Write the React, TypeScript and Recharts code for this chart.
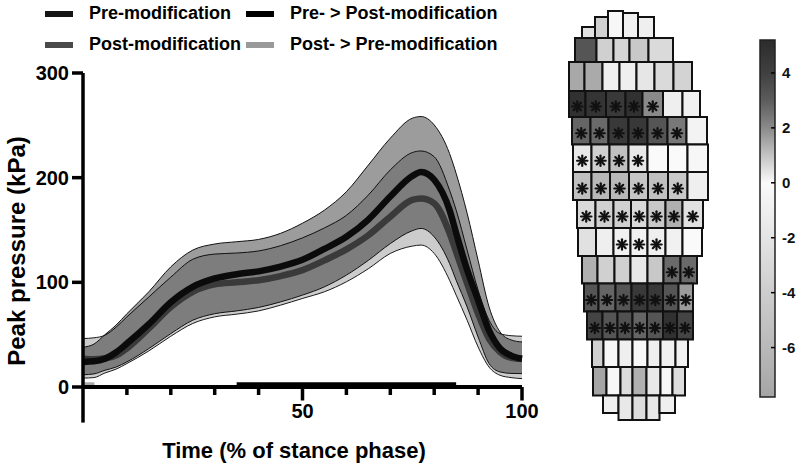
import React from 'react';
import {
  ComposedChart,
  Area,
  Line,
  XAxis,
  YAxis,
  ReferenceArea,
  ReferenceLine,
  Scatter,
} from 'recharts';

const FONT = '"Liberation Sans", Arial, Helvetica, sans-serif';

// ---- Peak pressure over stance phase (kPa) ----
const stance = [0, 2.5, 5, 7.5, 10, 15, 20, 25, 30, 35, 40, 45, 50, 55, 60, 65, 70, 75, 77, 80, 83.5, 85, 87.5, 90, 92.5, 95, 97.5, 100];
const preMean = [24, 24.5, 27, 33, 41.5, 60, 81, 95.7, 103.7, 107.8, 110.5, 115, 121.5, 132, 143.5, 160, 182, 201.6, 205.5, 198, 169, 147, 112, 83, 54, 37, 30, 27];
const preUpper = [38, 41, 50, 59, 70, 91, 114.8, 130.8, 136.6, 138.8, 141, 146.8, 156.5, 169, 186.6, 212, 237.7, 256.8, 258.4, 250.4, 223, 204, 166, 121, 76.5, 52.6, 45, 43];
const preLower = [11.7, 12.5, 16, 19, 24, 36.7, 51, 63.8, 70, 72.7, 76, 81.3, 87.8, 95.7, 106.9, 121, 137, 149.3, 151.5, 143.5, 118, 102, 76.5, 47.8, 22.4, 14.4, 13, 12.8];
const postMean = [27, 26.5, 27.5, 30, 37, 56, 76.5, 91, 98, 100, 102, 106, 111.7, 121, 131.5, 145, 162.7, 178.7, 180, 175.5, 147, 129, 99, 70, 46, 33.5, 28, 27];
const postUpper = [46.3, 47, 49.5, 57, 67, 86, 105, 122, 127, 128, 130, 135, 142.5, 152, 164, 183.4, 207.4, 224, 225.5, 220, 188, 169, 130.8, 92.5, 63.8, 51, 49, 48.5];
const postLower = [8.5, 9, 13.4, 17, 22.4, 34.5, 48.5, 60.7, 67, 69.6, 72.7, 78.2, 84.6, 91, 100.5, 113, 127.6, 134.6, 135.6, 127.6, 102, 87.8, 63.8, 38.3, 19, 11.2, 9, 8];

// significant stance intervals (% of stance)
const sigPreToPost: [number, number][] = [[35, 85]];
const sigPostToPre: [number, number][] = [[0.3, 2.6]];

const xTicks = [0, 10, 20, 30, 40, 50, 60, 70, 80, 90, 100];
const xLabelled = [50, 100];
const yTicks = [0, 100, 200, 300];

const legendItems = [
  { label: 'Pre-modification', color: '#151515' },
  { label: 'Pre- > Post-modification', color: '#000000' },
  { label: 'Post-modification', color: '#4a4a4a' },
  { label: 'Post- > Pre-modification', color: '#999999' },
];

// ---- Plantar map: rows of sensor regions, toe to heel (mm on the mask) ----
type FootRow = {
  top: number;
  bottom: number;
  edges: number[];
  values: number[];
  sig: number[];
  tops?: number[];
  bottoms?: number[];
};

const footRows: FootRow[] = [
  { top: 27, bottom: 38, edges: [22, 35, 48, 63, 78, 94], tops: [27, 17, 11, 13, 17], values: [-2.3, -3.7, -0.3, -0.8, -1.0], sig: [0, 0, 0, 0, 0] },
  { top: 38, bottom: 62, edges: [15, 36.5, 53.5, 69.5, 88.5, 113], values: [3.25, -3.7, -3.3, -4.5, -2.9], sig: [0, 0, 0, 0, 0] },
  { top: 62, bottom: 91, edges: [9, 24.5, 42.5, 59.5, 76.5, 94.5, 113.5, 132], values: [-7.5, -7.35, -1, -1, -1.8, -2.9, -3.5], sig: [0, 0, 0, 0, 0, 0, 0] },
  { top: 91, bottom: 117, edges: [9, 25.5, 46, 65.5, 82.5, 103, 122.5, 140], values: [4.9, 4.7, 4.4, 4.9, 2.0, -1, -0.8], sig: [1, 1, 1, 1, 1, 0, 0] },
  { top: 117, bottom: 144.5, edges: [12, 30.5, 48.5, 68.5, 87.5, 107.5, 126.5, 147], values: [2.8, 2.7, 4.4, 4.5, 3.25, 2.4, -0.6], sig: [1, 1, 1, 1, 1, 1, 0] },
  { top: 144.5, bottom: 172, edges: [13, 31.5, 49.5, 68.5, 87.5, 108, 127.5, 148], values: [-1.6, -3.7, -5.3, -1.6, 0, 0, -0.3], sig: [1, 1, 1, 1, 0, 0, 0] },
  { top: 172, bottom: 200, edges: [13, 31.5, 50, 69, 88, 108, 127.5, 148], values: [-5.3, -6.1, -6.1, -4.8, -5.3, -4.5, -1], sig: [1, 1, 1, 1, 1, 1, 0] },
  { top: 200, bottom: 228, edges: [17, 35.5, 53.5, 71, 87.5, 105.5, 122.5, 143], values: [-3, -3.7, -3.7, -3, -4.5, -6.8, -2.3], sig: [1, 1, 1, 1, 1, 1, 1] },
  { top: 228, bottom: 256, edges: [18, 36, 53.5, 70.5, 87.5, 105.5, 122.5, 142], values: [-2.3, -1, -0.8, -0.8, -1, -0.8, 0], sig: [0, 0, 1, 1, 1, 0, 0] },
  { top: 256, bottom: 283.5, edges: [22, 37.5, 54.5, 70.5, 87.5, 103.5, 120.5, 137], values: [-6.8, -3.7, -3.7, -1.6, -4.5, 2.7, 2.7], sig: [0, 0, 0, 0, 0, 1, 1] },
  { top: 283.5, bottom: 311.5, edges: [24, 38.5, 55.5, 71.5, 87.5, 103, 118.5, 133], values: [3.25, 2.8, 3.25, 4.4, 4.4, 3.25, 1.7], sig: [1, 1, 1, 1, 1, 1, 1] },
  { top: 311.5, bottom: 339.5, edges: [27, 42.5, 57.5, 72.5, 87, 103, 117, 133], values: [3.85, 3.25, 3.4, 2.8, 3.25, 4.9, 3.85], sig: [1, 1, 1, 1, 1, 1, 1] },
  { top: 339.5, bottom: 367, edges: [32, 43.5, 58.5, 72.5, 87.5, 100.5, 115.5, 128], values: [-3.7, -0.3, -1, -0.3, -1, -0.8, -0.8], sig: [0, 0, 0, 0, 0, 0, 0] },
  { top: 367, bottom: 395.5, edges: [33, 46.5, 60.5, 72.5, 86.5, 100.5, 112.5, 125], values: [-7.8, -0.3, -2.6, -6.8, -1.6, -0.3, -2.6], sig: [0, 0, 0, 0, 0, 0, 0] },
  { top: 395.5, bottom: 420, edges: [43, 58.5, 72.5, 86.5, 99.5, 115], bottoms: [413, 420, 420, 420, 413], values: [-1, -1.6, -2.6, -1.6, -1], sig: [0, 0, 0, 0, 0] },
];

// ---- Colour scale (difference) ----
const cbMin = -7.8;
const cbMax = 5.2;
const cbTicks = [4, 2, 0, -2, -4, -6];
const cbStops = [
  { v: 5.2, g: 44 },
  { v: 4, g: 64 },
  { v: 3, g: 92 },
  { v: 2, g: 138 },
  { v: 1, g: 195 },
  { v: 0, g: 250 },
  { v: -2, g: 228 },
  { v: -4, g: 205 },
  { v: -6, g: 185 },
  { v: -7.8, g: 165 },
];

const grayHex = (g: number) => {
  const h = Math.round(Math.max(0, Math.min(255, g))).toString(16).padStart(2, '0');
  return `#${h}${h}${h}`;
};

const colorFor = (v: number) => {
  const c = Math.max(cbMin, Math.min(cbMax, v));
  for (let i = 0; i < cbStops.length - 1; i++) {
    const a = cbStops[i];
    const b = cbStops[i + 1];
    if (c <= a.v && c >= b.v) {
      const t = (a.v - c) / (a.v - b.v);
      return grayHex(a.g + (b.g - a.g) * t);
    }
  }
  return grayHex(cbStops[cbStops.length - 1].g);
};

const curveData = stance.map((t, i) => ({
  t,
  preMean: preMean[i],
  postMean: postMean[i],
  preBand: [preLower[i], preUpper[i]],
  postBand: [postLower[i], postUpper[i]],
}));

const footCells = footRows.flatMap((row, r) =>
  row.values.map((v, i) => ({
    key: `c${r}-${i}`,
    x1: row.edges[i],
    x2: row.edges[i + 1],
    y1: row.tops ? row.tops[i] : row.top,
    y2: row.bottoms ? row.bottoms[i] : row.bottom,
    color: colorFor(v),
    sig: row.sig[i] === 1,
  }))
);

const asteriskPoints = footCells
  .filter((c) => c.sig)
  .map((c) => ({ x: (c.x1 + c.x2) / 2, y: (c.y1 + c.y2) / 2 + 2.5 }));

// colour bar spans the full scale range
const colorbarData = [
  { x: 0, v: cbMin },
  { x: 1, v: cbMax },
];

const sigBarHeight = 4.5;

const StanceTick = (props: any) => {
  const { x, y, payload } = props;
  const v = payload.value;
  const major = xLabelled.includes(v);
  const len = v === 0 ? 0 : major ? 13.5 : 8;
  return (
    <g>
      {len > 0 && <line x1={x} x2={x} y1={y} y2={y + len} stroke="#000" strokeWidth={3.5} />}
      {major && (
        <text x={x} y={y + 31} textAnchor="middle" fontSize={20} fontWeight={700} fill="#000" fontFamily={FONT}>
          {v}
        </text>
      )}
    </g>
  );
};

const XTitle = () => (
  <text x={294} y={458} textAnchor="middle" fontSize={22} fontWeight={700} fill="#000" fontFamily={FONT}>
    Time (% of stance phase)
  </text>
);

const YTitle = () => (
  <text
    transform="translate(25,251) rotate(-90)"
    textAnchor="middle"
    fontSize={24}
    fontWeight={700}
    fill="#000"
    fontFamily={FONT}
  >
    Peak pressure (kPa)
  </text>
);

const ColorbarTick = (props: any) => {
  const { x, y, payload } = props;
  return (
    <g>
      <line x1={x - 4} x2={x} y1={y} y2={y} stroke="#000" strokeWidth={1.5} />
      <text
        x={x + 7}
        y={y}
        dy={5.5}
        fill="#111"
        style={{ fontSize: 15, fontWeight: 700, fontFamily: FONT }}
      >
        {payload.value}
      </text>
    </g>
  );
};

const Asterisk = (p: any) => {
  const r = 5.2;
  const { cx, cy } = p;
  return (
    <g>
      {[0, 45, 90, 135].map((a) => {
        const rad = (a * Math.PI) / 180;
        const dx = r * Math.cos(rad);
        const dy = r * Math.sin(rad);
        return (
          <line key={a} x1={cx - dx} y1={cy - dy} x2={cx + dx} y2={cy + dy} stroke="#111" strokeWidth={2.2} strokeLinecap="round" />
        );
      })}
    </g>
  );
};

const legendCols = [45, 246];
const legendRows = [14, 45];

export default function App() {
  return (
    <div style={{ position: 'absolute', left: 0, top: 0, width: 800, height: 468, background: '#fff', fontFamily: FONT, overflow: 'hidden' }}>
      <div style={{ position: 'absolute', left: 0, top: 0 }}>
        <ComposedChart width={540} height={468} data={curveData} margin={{ top: 73, right: 18, bottom: 9, left: 0 }}>
          <XAxis
            type="number"
            dataKey="t"
            domain={[0, 100]}
            ticks={xTicks}
            interval={0}
            height={72}
            tickLine={false}
            tickSize={0}
            tickMargin={0}
            axisLine={{ stroke: '#000', strokeWidth: 4 }}
            tick={<StanceTick />}
            label={{ content: XTitle }}
          />
          <YAxis
            type="number"
            domain={[0, 300]}
            ticks={yTicks}
            width={83}
            tickSize={11}
            tickMargin={3}
            axisLine={{ stroke: '#000', strokeWidth: 3.5 }}
            tickLine={{ stroke: '#000', strokeWidth: 3.5 }}
            tick={{ fontSize: 20, fontWeight: 700, fill: '#000', fontFamily: FONT }}
            label={{ content: YTitle }}
          />
          <Area dataKey="postBand" type="monotone" fill="#000" fillOpacity={0.2} stroke="#1a1a1a" strokeWidth={1} isAnimationActive={false} />
          <Area dataKey="preBand" type="monotone" fill="#000" fillOpacity={0.39} stroke="#111" strokeWidth={1} isAnimationActive={false} />
          <Line dataKey="postMean" type="monotone" stroke="#3a3a3a" strokeWidth={6.5} dot={false} isAnimationActive={false} />
          <Line dataKey="preMean" type="monotone" stroke="#0b0b0b" strokeWidth={6.5} dot={false} isAnimationActive={false} />
          {sigPreToPost.map(([a, b]) => (
            <ReferenceArea key={`pp${a}`} x1={a} x2={b} y1={0} y2={sigBarHeight} fill="#000" fillOpacity={1} stroke="none" />
          ))}
          {sigPostToPre.map(([a, b]) => (
            <ReferenceArea key={`pq${a}`} x1={a} x2={b} y1={0} y2={sigBarHeight} fill="#a8a8a8" fillOpacity={1} stroke="none" />
          ))}
          <ReferenceLine segment={[{ x: 0, y: 0 }, { x: 0, y: -34 }]} ifOverflow="visible" stroke="#000" strokeWidth={3.5} />
        </ComposedChart>
      </div>

      <div style={{ position: 'absolute', left: 560, top: 0 }}>
        <ComposedChart width={160} height={430} margin={{ top: 0, right: 0, bottom: 0, left: 0 }}>
          <XAxis type="number" dataKey="x" domain={[0, 160]} hide />
          <YAxis type="number" dataKey="y" domain={[0, 430]} reversed hide />
          {footCells.map((c) => (
            <ReferenceArea
              key={c.key}
              x1={c.x1}
              x2={c.x2}
              y1={c.y1}
              y2={c.y2}
              fill={c.color}
              fillOpacity={1}
              stroke="#111"
              strokeWidth={2}
            />
          ))}
          <Scatter data={asteriskPoints} shape={Asterisk} isAnimationActive={false} />
        </ComposedChart>
      </div>

      <div style={{ position: 'absolute', left: 740, top: 0 }}>
        <ComposedChart width={60} height={420} margin={{ top: 40, right: 0, bottom: 23, left: 20 }} data={colorbarData}>
          <defs>
            <linearGradient id="cbGrad" x1="0" y1="0" x2="0" y2="1">
              {cbStops.map((s) => (
                <stop key={s.v} offset={`${((cbMax - s.v) / (cbMax - cbMin)) * 100}%`} stopColor={grayHex(s.g)} />
              ))}
            </linearGradient>
          </defs>
          <XAxis type="number" dataKey="x" domain={[0, 1]} hide />
          <YAxis
            orientation="right"
            type="number"
            dataKey="v"
            domain={[cbMin, cbMax]}
            ticks={cbTicks}
            width={25}
            axisLine={false}
            tickLine={false}
            tickSize={0}
            tickMargin={0}
            tick={<ColorbarTick />}
          />
          <ReferenceArea x1={0} x2={1} y1={cbMin} y2={cbMax} fill="url(#cbGrad)" fillOpacity={1} stroke="#222" strokeWidth={1.5} />
        </ComposedChart>
      </div>

      {legendItems.map((item, i) => {
        const left = legendCols[i % 2];
        const cy = legendRows[Math.floor(i / 2)];
        return (
          <React.Fragment key={item.label}>
            <div style={{ position: 'absolute', left, top: cy - 3, width: 28, height: 6, background: item.color }} />
            <div
              style={{
                position: 'absolute',
                left: left + 44,
                top: cy - 11,
                fontSize: 18,
                lineHeight: '20px',
                fontWeight: 700,
                color: '#000',
                whiteSpace: 'nowrap',
              }}
            >
              {item.label}
            </div>
          </React.Fragment>
        );
      })}
    </div>
  );
}
